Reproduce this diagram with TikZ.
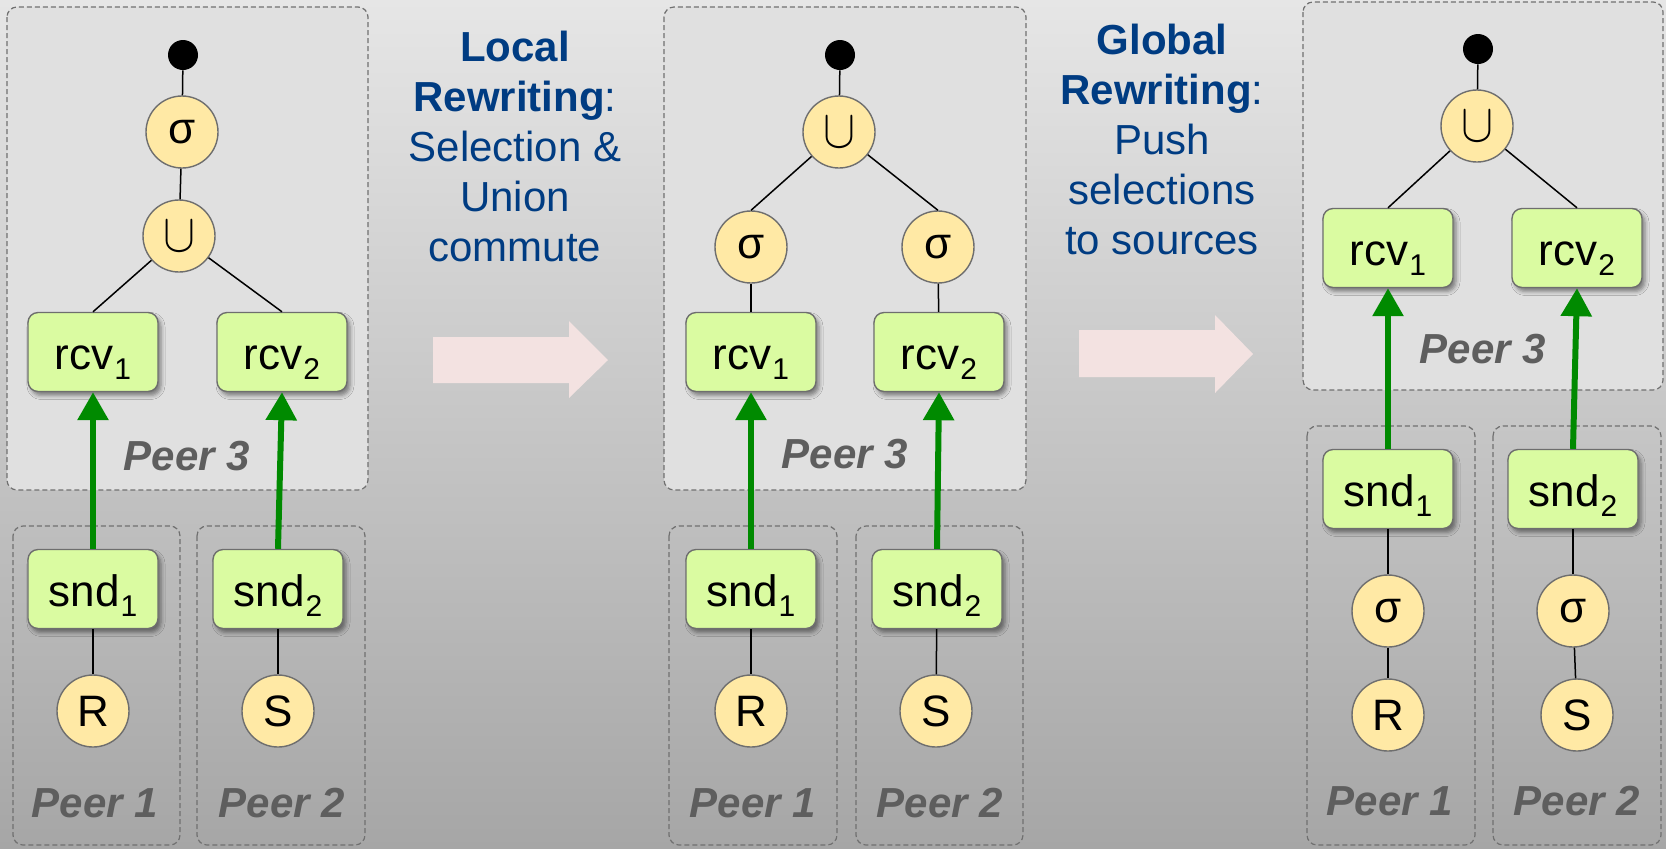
\documentclass[tikz,border=0pt]{standalone}
\usepackage{graphicx}
\usepackage{fontspec}
\setmainfont{Liberation Sans}
\usetikzlibrary{arrows.meta,shadows.blur}

\definecolor{bgtop}{HTML}{E6E6E6}
\definecolor{bgbot}{HTML}{A6A6A6}
\definecolor{peerfill}{HTML}{E0E0E0}
\definecolor{frame}{HTML}{707070}
\definecolor{opfill}{HTML}{FFE9A5}
\definecolor{msgfill}{HTML}{DAFBA1}
\definecolor{edgegray}{HTML}{6E6E6E}
\definecolor{flow}{HTML}{008A00}
\definecolor{headblue}{HTML}{003C82}
\definecolor{labelgray}{HTML}{5E5E5E}
\definecolor{hint}{HTML}{F3E2E1}

% small lowered index for channel names (adds no depth to the line)
\newcommand\idx[1]{\kern0.5pt\raisebox{-5pt}[0pt][0pt]{\fontsize{15}{15}\selectfont #1}}
% union operator glyph, sized to fit the operator circles
\newcommand\uni{\resizebox{16pt}{15pt}{$\cup$}}

\tikzset{
  peerbox/.style={draw=frame, line width=0.6pt, dash pattern=on 2.5pt off 1.5pt, rounded corners=5pt},
  op/.style={circle, draw=edgegray, line width=0.7pt, fill=opfill, minimum size=36pt,
    inner sep=0pt, font=\fontsize{22}{22}\selectfont},
  msg/.style={rectangle, rounded corners=5pt, draw=edgegray, line width=0.7pt, fill=msgfill,
    minimum width=65pt, minimum height=39.5pt, inner sep=0pt, font=\fontsize{22}{22}\selectfont,
    text height=17pt, text depth=0pt,
    blur shadow={shadow xshift=1.5pt, shadow yshift=-2pt, shadow blur radius=2pt, shadow opacity=45}},
  root/.style={circle, fill=black, minimum size=15pt, inner sep=0pt},
  tree/.style={line width=0.75pt},
  flowarrow/.style={draw=flow, line width=3pt, -{Triangle[width=15pt,length=14pt]}},
  peerlabel/.style={anchor=base, inner sep=0pt, text=labelgray,
    font=\fontsize{21}{21}\selectfont\bfseries\itshape},
  heading/.style={anchor=north, align=center, inner sep=0pt, text=headblue,
    font=\fontsize{21}{25}\selectfont},
  hintarrow/.style={fill=hint},
}

\begin{document}
\begin{tikzpicture}[x=0.5pt,y=-0.5pt]
\useasboundingbox (0,0) rectangle (1666,848);
\shade[top color=bgtop, bottom color=bgbot] (0,0) rectangle (1666,848);

% ---------- plan before rewriting ----------
\draw[peerbox, fill=peerfill] (7,7) rectangle (368,490);
\draw[peerbox] (13,526) rectangle (180,845);
\draw[peerbox] (197,526) rectangle (365,845);

\node[root] (a0) at (183,55) {};
\node[op] (asel) at (182,132) {σ};
\node[op] (auni) at (179,236) {\uni};
\node[msg] (arcv1) at (93,352) {rcv\idx{1}};
\node[msg] (arcv2) at (282,352) {rcv\idx{2}};
\node[msg] (asnd1) at (93,589) {snd\idx{1}};
\node[msg] (asnd2) at (278,589) {snd\idx{2}};
\node[op] (aR) at (93,711) {R};
\node[op] (aS) at (278,711) {S};

\draw[tree] (a0) -- (asel);
\draw[tree] (asel) -- (auni);
\draw[tree] (auni) -- (arcv1.north);
\draw[tree] (auni) -- (arcv2.north);
\draw[tree] (asnd1) -- (aR);
\draw[tree] (asnd2) -- (aS);
\draw[flowarrow] (asnd1.north) -- (arcv1.south);
\draw[flowarrow] (asnd2.north) -- (arcv2.south);

\node[peerlabel] (ap3) at (187,470) {Peer 3};
\node[peerlabel] (ap1) at (95,817) {Peer 1};
\node[peerlabel] (ap2) at (282,817) {Peer 2};

% ---------- first rewriting step ----------
\node[heading] (h1) at (515,31) {\textbf{Local}\\\textbf{Rewriting}:\\Selection \&\\Union\\commute};
\path[hintarrow] (433,337) -- (569,337) -- (569,321) -- (608,360) -- (569,398) -- (569,383) -- (433,383) -- cycle;

% ---------- plan after local rewriting ----------
\draw[peerbox, fill=peerfill] (664,7) rectangle (1026,490);
\draw[peerbox] (669,526) rectangle (837,845);
\draw[peerbox] (856,526) rectangle (1023,845);

\node[root] (b0) at (840,55) {};
\node[op] (buni) at (839,132) {\uni};
\node[op] (bsel1) at (751,247) {σ};
\node[op] (bsel2) at (938,247) {σ};
\node[msg] (brcv1) at (751,352) {rcv\idx{1}};
\node[msg] (brcv2) at (939,352) {rcv\idx{2}};
\node[msg] (bsnd1) at (751,589) {snd\idx{1}};
\node[msg] (bsnd2) at (937,589) {snd\idx{2}};
\node[op] (bR) at (751,711) {R};
\node[op] (bS) at (936,711) {S};

\draw[tree] (b0) -- (buni);
\draw[tree] (buni) -- (bsel1.north);
\draw[tree] (buni) -- (bsel2.north);
\draw[tree] (bsel1) -- (brcv1);
\draw[tree] (bsel2) -- (brcv2);
\draw[tree] (bsnd1) -- (bR);
\draw[tree] (bsnd2) -- (bS);
\draw[flowarrow] (bsnd1.north) -- (brcv1.south);
\draw[flowarrow] (bsnd2.north) -- (brcv2.south);

\node[peerlabel] (bp3) at (845,468) {Peer 3};
\node[peerlabel] (bp1) at (753,817) {Peer 1};
\node[peerlabel] (bp2) at (940,817) {Peer 2};

% ---------- second rewriting step ----------
\node[heading] (h2) at (1162,24) {\textbf{Global}\\\textbf{Rewriting}:\\Push\\selections\\to sources};
\path[hintarrow] (1079,330) -- (1215,330) -- (1215,315) -- (1253,354) -- (1215,393) -- (1215,377) -- (1079,377) -- cycle;

% ---------- plan after global rewriting ----------
\draw[peerbox, fill=peerfill] (1303,2) rectangle (1663,390);
\draw[peerbox] (1307,426) rectangle (1475,845);
\draw[peerbox] (1493,426) rectangle (1661,845);

\node[root] (c0) at (1478,49) {};
\node[op] (cuni) at (1477,126) {\uni};
\node[msg] (crcv1) at (1388,248) {rcv\idx{1}};
\node[msg] (crcv2) at (1577,248) {rcv\idx{2}};
\node[msg] (csnd1) at (1388,489) {snd\idx{1}};
\node[msg] (csnd2) at (1573,489) {snd\idx{2}};
\node[op] (csel1) at (1388,611) {σ};
\node[op] (csel2) at (1573,611) {σ};
\node[op] (cR) at (1388,715) {R};
\node[op] (cS) at (1577,715) {S};

\draw[tree] (c0) -- (cuni);
\draw[tree] (cuni) -- (crcv1.north);
\draw[tree] (cuni) -- (crcv2.north);
\draw[tree] (csnd1) -- (csel1);
\draw[tree] (csnd2) -- (csel2);
\draw[tree] (csel1) -- (cR);
\draw[tree] (csel2) -- (cS);
\draw[flowarrow] (csnd1.north) -- (crcv1.south);
\draw[flowarrow] (csnd2.north) -- (crcv2.south);

\node[peerlabel] (cp3) at (1483,363) {Peer 3};
\node[peerlabel] (cp1) at (1390,815) {Peer 1};
\node[peerlabel] (cp2) at (1577,815) {Peer 2};
\end{tikzpicture}
\end{document}
